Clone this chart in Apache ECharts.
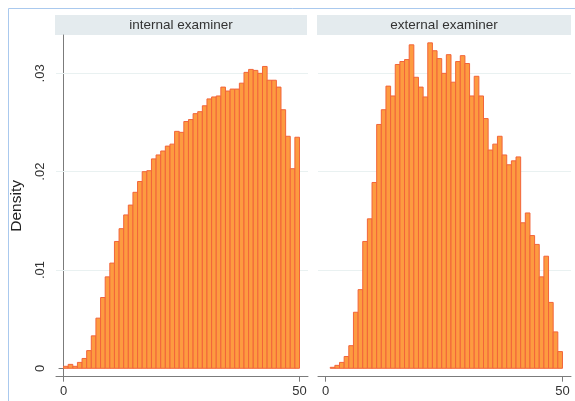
<!DOCTYPE html>
<html><head><meta charset="utf-8">
<script src="https://cdn.jsdelivr.net/npm/echarts@6.0.0/dist/echarts.min.js"></script>
<style>html,body{margin:0;padding:0;background:#fff}#c{width:575px;height:401px}</style>
</head><body><div id="c"></div>
<script>
const panelTitles = ['internal examiner', 'external examiner'];
// histogram densities, 51 equal-width bins spanning 0..50
const internalDensity = [
  0.0002, 0.0004, 0.0002, 0.0006, 0.0010, 0.0018, 0.0033, 0.0051, 0.0072, 0.0093,
  0.0107, 0.0129, 0.0142, 0.0156, 0.0166, 0.0179, 0.0190, 0.0200, 0.0201, 0.0213,
  0.0217, 0.0221, 0.0226, 0.0228, 0.0241, 0.0240, 0.0251, 0.0253, 0.0259, 0.0261,
  0.0267, 0.0274, 0.0276, 0.0277, 0.0286, 0.0282, 0.0284, 0.0284, 0.0290, 0.0301,
  0.0304, 0.0303, 0.0300, 0.0307, 0.0293, 0.0293, 0.0286, 0.0263, 0.0236, 0.0203,
  0.0235
];
const externalDensity = [
  0.0000, 0.0001, 0.0003, 0.0006, 0.0012, 0.0023, 0.0057, 0.0080, 0.0129, 0.0152,
  0.0189, 0.0248, 0.0263, 0.0287, 0.0277, 0.0309, 0.0312, 0.0314, 0.0329, 0.0296,
  0.0286, 0.0276, 0.0331, 0.0323, 0.0315, 0.0300, 0.0319, 0.0291, 0.0312, 0.0318,
  0.0310, 0.0277, 0.0297, 0.0277, 0.0254, 0.0222, 0.0228, 0.0236, 0.0217, 0.0207,
  0.0211, 0.0215, 0.0148, 0.0158, 0.0135, 0.0126, 0.0093, 0.0114, 0.0067, 0.0037,
  0.0017
];
const binRange = [0, 50];
const xTickValues = [0, 50];
const xTickLabels = ['0', '50'];
const yTickValues = [0, 0.01, 0.02, 0.03];
const yTickLabels = ['0', '.01', '.02', '.03'];
const gridValues = [0.01, 0.02, 0.03];
const yAxisTitle = 'Density';

const FONT = '"Liberation Sans", Arial, Helvetica, sans-serif';
const BAR_FILL = '#fd9b40';
const BAR_EDGE = '#f2643a';
const AXIS_GREY = '#7b7b7b';

function binsOf(vals) {
  const w = (binRange[1] - binRange[0]) / vals.length;
  return vals.map((v, i) => [binRange[0] + i * w, binRange[0] + (i + 1) * w, v]);
}
function labelFor(values, labels) {
  return function (v) {
    const i = values.findIndex(t => Math.abs(t - v) < 1e-9);
    return i >= 0 ? labels[i] : '';
  };
}
function renderBar(params, api) {
  const v = api.value(2);
  if (!(v > 0)) return null;
  const p0 = api.coord([api.value(0), v]);
  const p1 = api.coord([api.value(1), 0]);
  return {
    type: 'rect',
    shape: { x: p0[0], y: p0[1], width: p1[0] - p0[0], height: p1[1] - p0[1] },
    style: { fill: BAR_FILL, stroke: BAR_EDGE, lineWidth: 1 }
  };
}

const Y_MIN = -0.000855, Y_MAX = 0.0339;
const X_MIN = -1.6, X_MAX = 51.8;

const grids = [
  { left: 56, top: 35, width: 252, height: 341.7 },
  { left: 318, top: 35, width: 253, height: 341.7 }
];
const xAxes = [0, 1].map(i => ({
  type: 'value', gridIndex: i, min: X_MIN, max: X_MAX,
  axisLine: { show: true, onZero: false, lineStyle: { color: AXIS_GREY, width: 1 } },
  axisTick: { show: true, length: 5, customValues: xTickValues, lineStyle: { color: AXIS_GREY } },
  axisLabel: { customValues: xTickValues, formatter: labelFor(xTickValues, xTickLabels),
    fontFamily: FONT, fontSize: 13, color: '#333', margin: 8 },
  splitLine: { show: false }
}));
const yAxes = [0, 1].map(i => ({
  type: 'value', gridIndex: i, min: Y_MIN, max: Y_MAX,
  name: i === 0 ? yAxisTitle : '',
  nameLocation: 'middle', nameRotate: 90, nameGap: 31,
  nameTextStyle: { fontFamily: FONT, fontSize: 15.5, color: '#222' },
  axisLine: { show: i === 0, lineStyle: { color: AXIS_GREY, width: 1 } },
  axisTick: { show: i === 0, length: 5, customValues: yTickValues, lineStyle: { color: AXIS_GREY } },
  axisLabel: { show: i === 0, customValues: yTickValues, formatter: labelFor(yTickValues, yTickLabels),
    rotate: 90, fontFamily: FONT, fontSize: 13, color: '#333', margin: 9 },
  splitLine: { show: false }
}));
const series = [internalDensity, externalDensity].map((vals, i) => ({
  type: 'custom', xAxisIndex: i, yAxisIndex: i,
  renderItem: renderBar,
  encode: { x: [0, 1], y: 2 },
  data: binsOf(vals),
  z: 2,
  markLine: {
    silent: true, symbol: 'none', z: 1,
    label: { show: false },
    lineStyle: { color: '#e9f1f1', width: 1, type: 'solid' },
    data: gridValues.map(g => ({ yAxis: g }))
  }
}));

const graphic = [
  { type: 'rect', z: -10, shape: { x: 8.5, y: 8.5, width: 700, height: 500 },
    style: { fill: null, stroke: '#aac9ee', lineWidth: 1 } }
];
[[55, 252], [317, 254]].forEach((h, i) => {
  graphic.push({ type: 'rect', shape: { x: h[0], y: 15, width: h[1], height: 20 },
    style: { fill: '#e4ebee' } });
  graphic.push({ type: 'text', x: h[0] + h[1] / 2, y: 25,
    style: { text: panelTitles[i], fontFamily: FONT, fontSize: 13.5, fill: '#333',
      align: 'center', verticalAlign: 'middle' } });
});

const chart = echarts.init(document.getElementById('c'), null, { renderer: 'canvas' });
chart.setOption({
  animation: false,
  backgroundColor: '#ffffff',
  grid: grids, xAxis: xAxes, yAxis: yAxes, series: series, graphic: graphic
});
</script></body></html>
